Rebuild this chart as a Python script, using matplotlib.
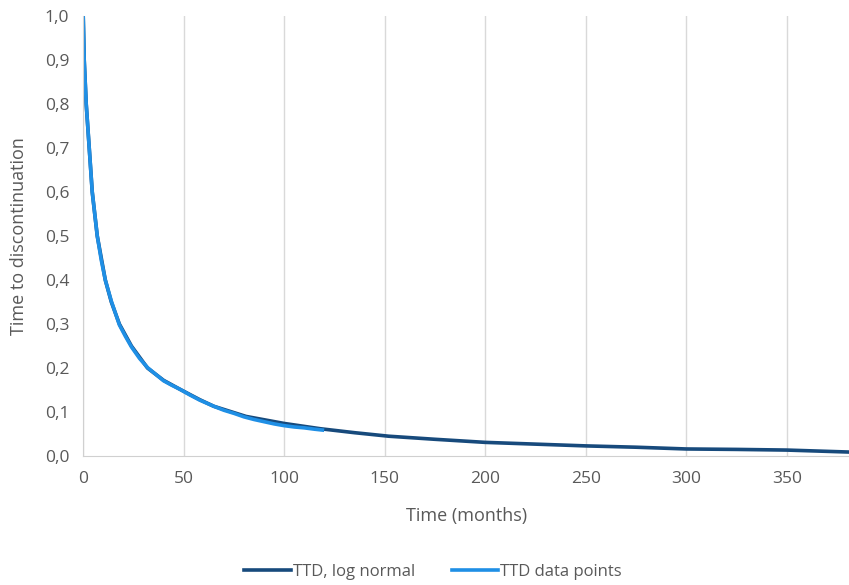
import numpy as np
import matplotlib.pyplot as plt

plt.rcParams['font.family'] = ['Open Sans', 'DejaVu Sans']

# fitted log normal curve (months, share still on treatment)
fit_months = [0, 0.5, 1.5, 3, 4.5, 7, 11, 14, 18, 24, 32, 40, 48, 58, 65, 81,
              100, 118, 135, 152, 175, 200, 225, 250, 275, 300, 325, 350, 381]
fit_ttd = [1.0, 0.90, 0.80, 0.70, 0.60, 0.50, 0.40, 0.35, 0.30, 0.25, 0.20, 0.172,
           0.152, 0.128, 0.113, 0.090, 0.074, 0.062, 0.053, 0.045, 0.038, 0.031,
           0.027, 0.023, 0.020, 0.016, 0.015, 0.0135, 0.009]

# observed data points
obs_months = [0, 0.5, 1.5, 3, 4.5, 7, 9, 11, 14, 18, 21, 24, 28, 32, 36, 40, 44,
              48, 53, 58, 65, 70, 75, 80, 85, 90, 95, 100, 105, 110, 115, 119]
obs_ttd = [1.0, 0.90, 0.80, 0.70, 0.60, 0.50, 0.445, 0.40, 0.352, 0.298, 0.272,
           0.248, 0.222, 0.201, 0.186, 0.171, 0.161, 0.152, 0.139, 0.127, 0.113,
           0.104, 0.097, 0.089, 0.083, 0.078, 0.073, 0.069, 0.066, 0.064, 0.061, 0.059]

xticks = [0, 50, 100, 150, 200, 250, 300, 350]
yticks = [0.0, 0.1, 0.2, 0.3, 0.4, 0.5, 0.6, 0.7, 0.8, 0.9, 1.0]

fig = plt.figure(figsize=(8.49, 5.85), dpi=100)
ax = fig.add_axes([0.098, 0.2205, 0.902, 0.752])

ax.plot(fit_months, fit_ttd, color='#174a7c', lw=2.6, label='TTD, log normal')
ax.plot(obs_months, obs_ttd, color='#1f8fe5', lw=2.6, label='TTD data points')

ax.set_xlim(0, 381)
ax.set_ylim(0, 1.0)
ax.set_xticks(xticks)
ax.set_yticks(yticks)
ax.set_yticklabels([f'{v:.1f}'.replace('.', ',') for v in yticks])
ax.tick_params(length=0, labelsize=12.5, labelcolor='#595959')
ax.tick_params(axis='x', pad=11)
ax.tick_params(axis='y', pad=10)
ax.grid(axis='x', color='#d9d9d9', lw=1)
ax.set_axisbelow(True)
for side in ['top', 'right']:
    ax.spines[side].set_visible(False)
for side in ['left', 'bottom']:
    ax.spines[side].set_color('#d0d0d0')

ax.set_xlabel('Time (months)', fontsize=13, color='#595959', labelpad=14)
ax.set_ylabel('Time to discontinuation', fontsize=13, color='#595959', labelpad=12)

fig.legend(loc='center', bbox_to_anchor=(0.51, 0.022), ncol=2, frameon=False,
           fontsize=12, labelcolor='#595959', handlelength=2.8,
           handletextpad=0.1, columnspacing=2.2)

fig.savefig('out.png', dpi=100)
